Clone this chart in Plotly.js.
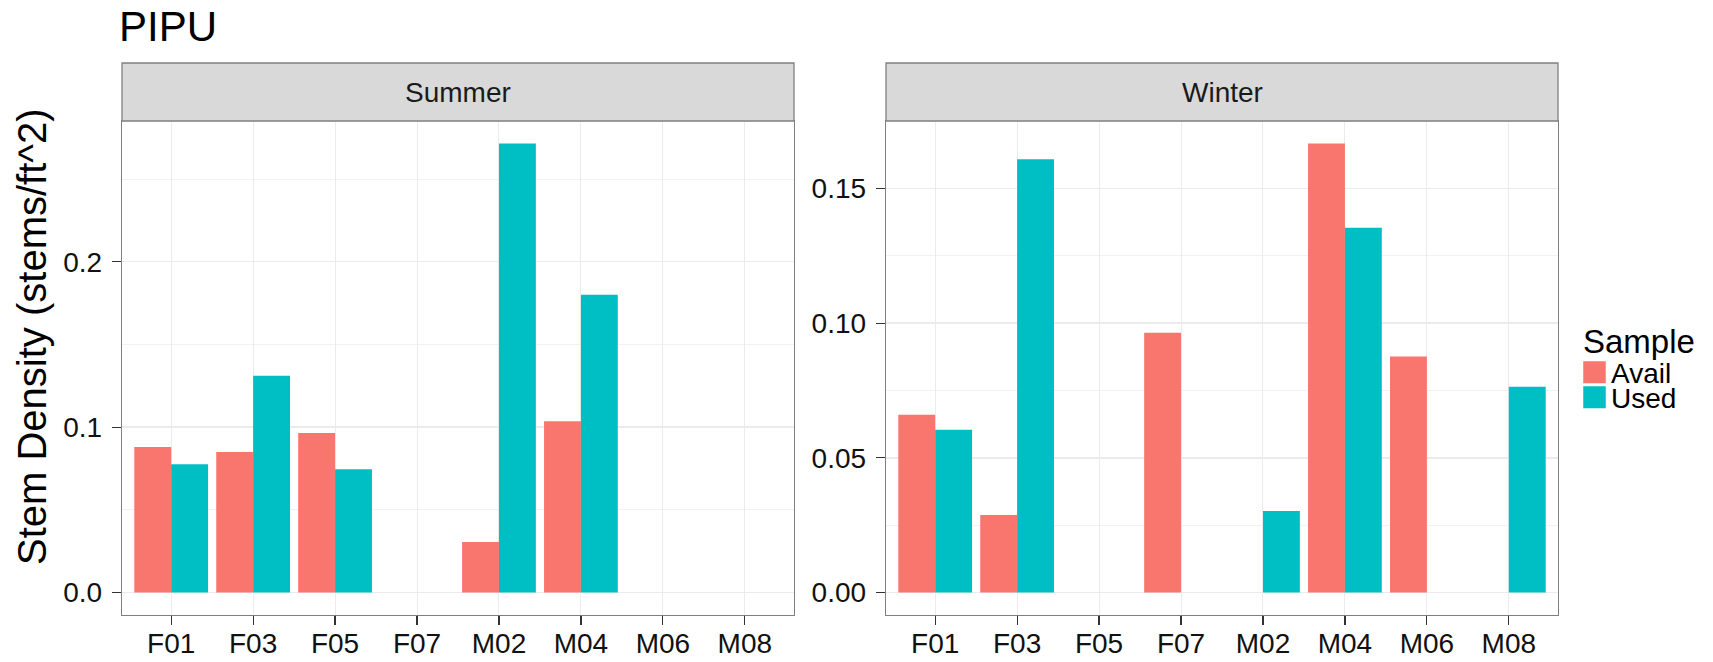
<!DOCTYPE html>
<html>
<head>
<meta charset="utf-8">
<script src="https://cdn.plot.ly/plotly-3.0.1.min.js"></script>
<style>html,body{margin:0;padding:0;background:#fff;}#chart{width:1713px;height:662px;}</style>
</head>
<body>
<div id="chart"></div>
<script>
// ---- data ----
var categories = ['F01','F03','F05','F07','M02','M04','M06','M08'];
var seriesNames = ['Avail','Used'];
var panelNames = ['Summer','Winter'];
var summerAvail = [0.088, 0.085, 0.0965, null, 0.0305, 0.1035, null, null];
var summerUsed  = [0.0775, 0.131, 0.0745, null, 0.2715, 0.180, null, null];
var winterAvail = [0.066, 0.0288, null, 0.0964, null, 0.1667, 0.0876, null];
var winterUsed  = [0.0604, 0.1608, null, null, 0.0303, 0.1354, null, 0.0764];
var summerTicks = [0, 0.1, 0.2];
var winterTicks = [0, 0.05, 0.10, 0.15];

// ---- styling ----
var W = 1713, H = 662;
var M = {l:122, r:155, t:121, b:47};
var PW = W - M.l - M.r, PH = H - M.t - M.b;
var FONT = 'Liberation Sans, Arial, Helvetica, sans-serif';
var colors = {Avail: '#F8766D', Used: '#00BFC4'};
function px(x){ return (x - M.l) / PW; }
function py(y){ return (H - M.b - y) / PH; }

var panelTop = 121, panelBottom = 615, stripTop = 63;
var xDom1 = [0, px(794)];
var xDom2 = [px(886), 1];
var yDom = [0, 1];

function maxOf(){ var m = 0; for (var i=0;i<arguments.length;i++) arguments[i].forEach(function(v){ if (v!=null && v>m) m=v; }); return m; }
var sMax = maxOf(summerAvail, summerUsed);
var wMax = maxOf(winterAvail, winterUsed);

function bar(name, y, xa, ya){
  return {type:'bar', name:name, x:categories, y:y, xaxis:xa, yaxis:ya,
    marker:{color:colors[name], line:{width:0}}, showlegend:false, hoverinfo:'x+y'};
}
var data = [
  bar('Avail', summerAvail, 'x', 'y'),
  bar('Used', summerUsed, 'x', 'y'),
  bar('Avail', winterAvail, 'x2', 'y2'),
  bar('Used', winterUsed, 'x2', 'y2')
];

var tickFont = {family: FONT, size: 28, color: '#111111'};
function xaxis(dom, anchor){
  return {domain: dom, anchor: anchor, type:'category', categoryorder:'array', categoryarray: categories,
    range:[-0.6, categories.length - 0.4], showgrid:true, gridcolor:'#EBEBEB', gridwidth:1,
    showline:true, mirror:true, linecolor:'#7F7F7F', linewidth:1.3,
    ticks:'outside', ticklen:9, tickcolor:'#333333', tickwidth:1.2, tickfont:tickFont,
    ticklabelstandoff:-6, zeroline:false, fixedrange:true, automargin:false};
}
function yaxis(anchor, max, ticks, fmt, minorStep){
  return {domain: yDom, anchor: anchor, range:[-0.05*max, 1.05*max],
    tickmode:'array', tickvals: ticks, ticktext: ticks.map(function(v){ return v.toFixed(fmt); }),
    showgrid:true, gridcolor:'#EBEBEB', gridwidth:1.3,
    minor:{dtick:minorStep, tick0:0, showgrid:true, gridcolor:'#F2F2F2', gridwidth:1, ticks:''},
    showline:true, mirror:true, linecolor:'#7F7F7F', linewidth:1.3,
    ticks:'outside', ticklen:9, tickcolor:'#333333', tickwidth:1.2, tickfont:tickFont,
    ticklabelstandoff:4, zeroline:false, fixedrange:true, automargin:false};
}

var shapes = [];
var annotations = [];
[xDom1, xDom2].forEach(function(d, i){
  shapes.push({type:'rect', xref:'paper', yref:'paper', x0:d[0], x1:d[1], y0:py(panelTop), y1:py(stripTop),
    fillcolor:'#D9D9D9', line:{color:'#7F7F7F', width:1.3}, layer:'above'});
  annotations.push({xref:'paper', yref:'paper', x:(d[0]+d[1])/2, y:py((panelTop+stripTop)/2),
    xanchor:'center', yanchor:'middle', showarrow:false, text:panelNames[i],
    font:{family:FONT, size:28, color:'#1A1A1A'}});
});

// y-axis title (shared across facets)
annotations.push({xref:'paper', yref:'paper', x:px(32), y:py(337), xanchor:'center', yanchor:'middle',
  showarrow:false, textangle:-90, text:'Stem Density (stems/ft^2)', font:{family:FONT, size:40, color:'#000000'}});

// legend (drawn as key boxes + labels)
annotations.push({xref:'paper', yref:'paper', x:px(1581), y:py(341), xanchor:'left', yanchor:'middle',
  showarrow:false, text:'Sample', font:{family:FONT, size:33, color:'#000000'}});
seriesNames.forEach(function(n, i){
  var top = 361 + i*25;
  shapes.push({type:'rect', xref:'paper', yref:'paper', x0:px(1583), x1:px(1606), y0:py(top+22.5), y1:py(top),
    fillcolor:colors[n], line:{color:'#FFFFFF', width:0.5}});
  annotations.push({xref:'paper', yref:'paper', x:px(1609), y:py(top+12), xanchor:'left', yanchor:'middle',
    showarrow:false, text:n, font:{family:FONT, size:28, color:'#000000'}});
});

var layout = {
  width: W, height: H, margin:{l:M.l, r:M.r, t:M.t, b:M.b, pad:0},
  paper_bgcolor:'#FFFFFF', plot_bgcolor:'#FFFFFF',
  font:{family:FONT, size:28, color:'#000000'},
  title:{text:'PIPU', font:{family:FONT, size:42, color:'#000000'}, xref:'container', yref:'container',
    x:119/W, xanchor:'left', y:1 - 26/H, yanchor:'middle'},
  barmode:'group', bargap:0.1, bargroupgap:0,
  showlegend:false,
  xaxis: xaxis(xDom1, 'y'),
  yaxis: yaxis('x', sMax, summerTicks, 1, 0.05),
  xaxis2: xaxis(xDom2, 'y2'),
  yaxis2: yaxis('x2', wMax, winterTicks, 2, 0.025),
  shapes: shapes,
  annotations: annotations
};

Plotly.newPlot('chart', data, layout, {displayModeBar:false, staticPlot:true});
</script>
</body>
</html>
